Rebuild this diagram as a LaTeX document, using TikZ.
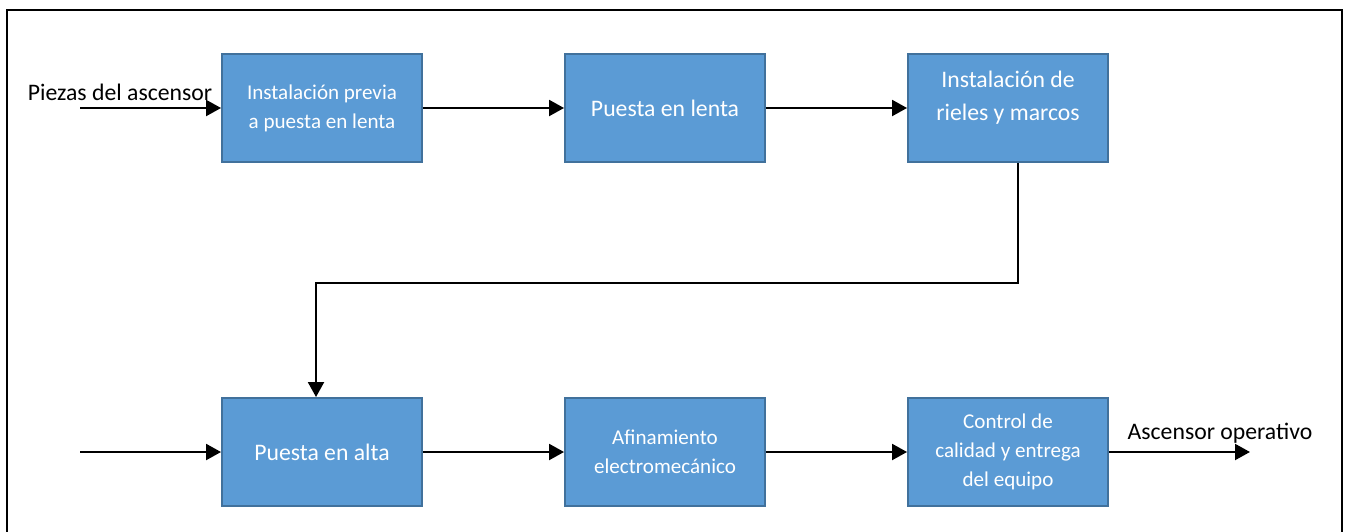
\documentclass[tikz,border=0pt]{standalone}
\usepackage{fontspec}
\setmainfont{Carlito}
\usetikzlibrary{arrows.meta}
\definecolor{boxblue}{HTML}{5B9BD5}
\definecolor{boxline}{HTML}{41719C}
\tikzset{
    etapa/.style={draw=boxline, line width=1.1pt, fill=boxblue, text=white,
        minimum width=4cm, minimum height=2.16cm, align=center,
        font=\fontsize{12}{16.5}\selectfont},
    etapagrande/.style={etapa, font=\fontsize{13.5}{18.5}\selectfont},
    flujo/.style={line width=1.4pt, -{Triangle[length=8.5pt,width=9pt]}},
    rotulo/.style={font=\fontsize{13.5}{16}\selectfont, inner sep=0pt}
}
\begin{document}
\begin{tikzpicture}[x=0.02cm, y=-0.02cm]
    \useasboundingbox (0,0) rectangle (1348,531);
    \draw[line width=1.6pt] (7,600) -- (7,10) -- (1342,10) -- (1342,600);

    \node[etapa]      (previa)  at (322,108) {Instalación previa\\a puesta en lenta};
    \node[etapagrande] (lenta)  at (665,108) {Puesta en lenta};
    \node[etapagrande, text depth=14pt] (rieles) at (1008,108) {Instalación de\\rieles y marcos};
    \node[etapagrande] (alta)   at (322,452) {Puesta en alta};
    \node[etapa]      (afina)   at (665,452) {Afinamiento\\electromecánico};
    \node[etapa]      (control) at (1008,452) {Control de\\calidad y entrega\\del equipo};

    \node[rotulo] (piezas) at (120,92) {Piezas del ascensor};
    \node[rotulo] (operativo) at (1220,433) {Ascensor operativo};
    \coordinate (ent1) at (80,108);
    \coordinate (ent2) at (80,452);
    \coordinate (sal)  at (1250,452);

    \draw[flujo] (ent1) -- (previa);
    \draw[flujo] (previa) -- (lenta);
    \draw[flujo] (lenta) -- (rieles);
    \draw[flujo] ([xshift=0.2cm]rieles.south) -- ++(0,120) -| ([xshift=-0.12cm]alta.north);
    \draw[flujo] (ent2) -- (alta);
    \draw[flujo] (alta) -- (afina);
    \draw[flujo] (afina) -- (control);
    \draw[flujo] (control) -- (sal);
\end{tikzpicture}
\end{document}
